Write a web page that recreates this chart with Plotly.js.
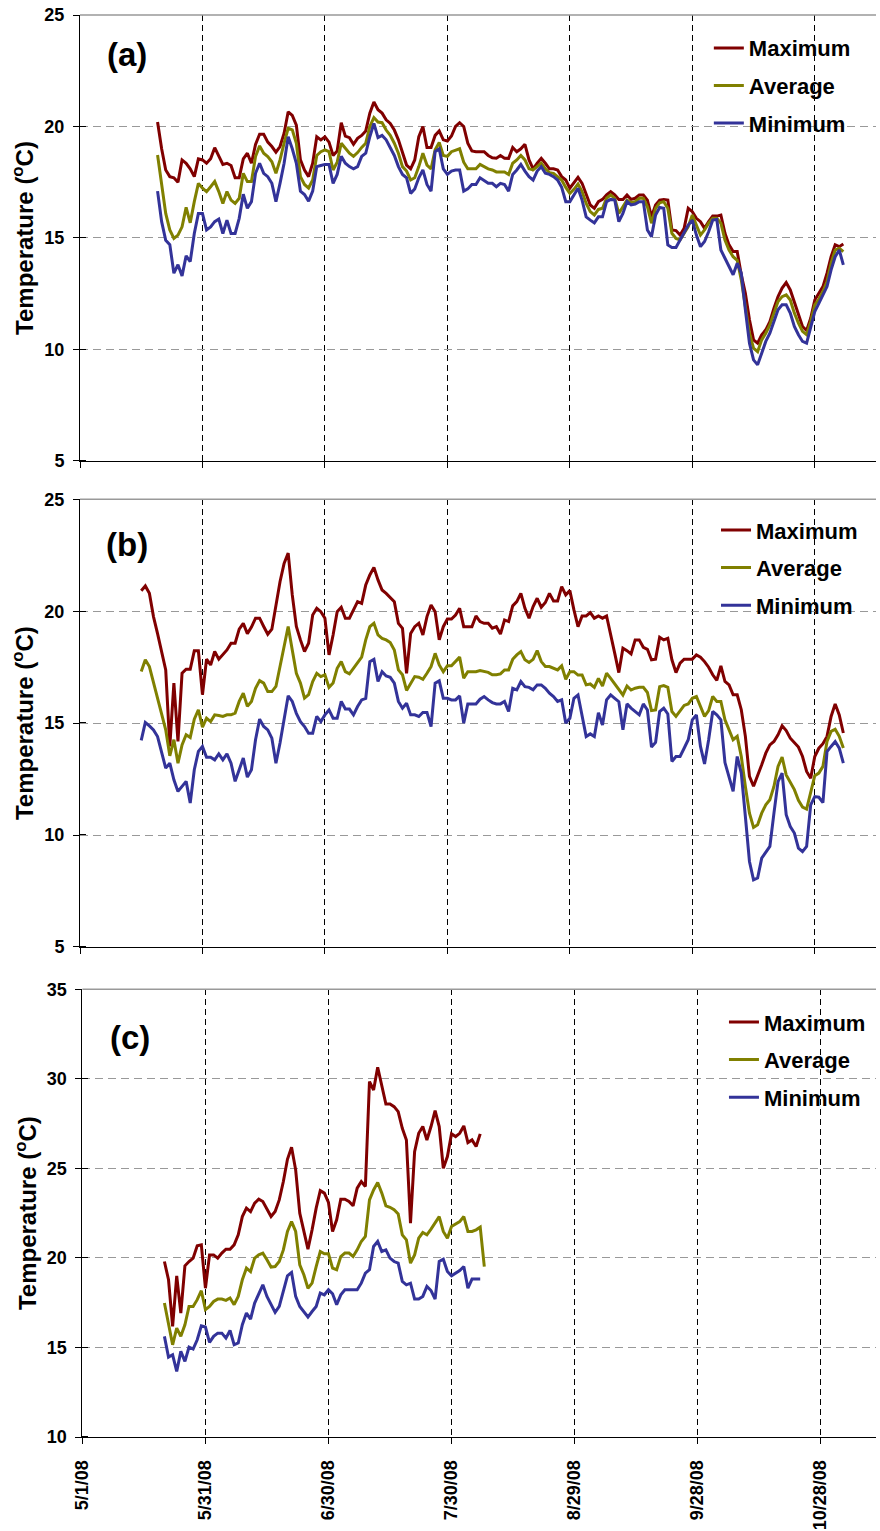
<!DOCTYPE html>
<html><head><meta charset="utf-8">
<script src="https://cdn.plot.ly/plotly-3.0.1.min.js"></script>
<style>html,body{margin:0;padding:0;background:#fff}</style>
</head><body><div id="chart" style="width:880px;height:1531px"></div>
<script>
const seriesNames = ['Maximum', 'Average', 'Minimum'];
const seriesColors = ['#800000', '#808000', '#333399'];
const panelLabels = ['(a)', '(b)', '(c)'];
const yTitle = 'Temperature (<sup>o</sup>C)';

// Panel (a): daily values starting 5/20/08
const startA = '2008-05-20';
const aMax = [20.2,19.0,18.05,17.75,17.7,17.5,18.5,18.35,18.1,17.75,18.55,18.5,18.35,18.55,19.05,18.7,18.3,18.35,18.25,17.7,17.7,18.55,18.8,18.35,19.2,19.65,19.65,19.3,19.1,18.85,19.1,19.7,
20.66,20.5,20.06,18.5,18.05,17.75,18.35,19.54,19.4,19.54,19.3,18.7,18.9,20.17,19.57,19.5,19.2,19.47,19.6,19.8,20.6,21.1,20.75,20.6,20.3,20.14,19.84,19.4,18.8,18.27,18.1,18.5,19.54,20.0,19.06,19.06,19.6,19.8,19.4,19.35,19.57,20.0,20.17,20.0,19.25,18.9,18.87,18.87,18.87,18.7,18.6,18.58,18.7,18.58,18.57,19.06,18.87,19.0,19.2,18.5,18.1,18.35,18.57,18.35,18.1,18.1,18.05,
17.75,17.6,17.23,17.45,17.72,17.45,17.0,16.48,16.33,16.63,16.73,16.93,17.08,16.93,16.73,16.73,16.93,16.73,16.78,16.93,16.93,16.7,15.95,16.48,16.7,16.73,16.7,15.36,15.33,15.13,15.43,16.33,16.18,15.88,15.73,15.43,15.73,15.98,15.98,16.03,15.21,14.69,14.39,14.39,13.35,12.52,11.33,10.43,10.28,10.66,10.88,11.25,11.85,12.37,12.75,13.0,12.67,12.15,11.55,11.03,10.85,11.4,12.22,12.52,12.82,13.42,14.16,14.69,14.61,14.73];
const aAvg = [18.72,17.3,16.1,15.36,14.98,15.13,15.5,16.37,15.68,16.63,17.45,17.23,17.08,17.3,17.53,17.08,16.55,17.08,16.7,16.55,16.78,17.9,17.53,17.53,18.65,19.13,18.8,18.65,18.42,17.9,18.5,19.25,
19.92,19.85,19.25,17.75,17.4,17.24,17.6,18.7,18.87,18.95,18.87,18.05,18.4,19.25,19.0,18.8,18.66,18.83,19.06,19.25,20.0,20.4,20.2,20.17,19.84,19.6,19.25,18.8,18.2,18.0,17.6,17.7,18.2,18.8,18.27,18.1,18.95,19.28,18.7,18.66,18.87,18.95,19.0,18.4,18.1,18.1,18.1,18.3,18.2,18.1,18.05,17.96,17.96,17.96,17.85,18.35,18.5,18.7,18.5,18.1,18.05,18.2,18.35,18.1,17.93,17.9,17.75,
17.6,17.27,17.0,17.18,17.42,17.08,16.55,16.18,16.03,16.28,16.33,16.78,16.93,16.78,16.1,16.4,16.7,16.58,16.63,16.78,16.78,16.4,15.66,16.33,16.58,16.63,16.33,15.21,14.98,14.91,15.21,15.51,16.03,15.58,15.13,15.36,15.66,15.88,15.88,15.66,14.91,14.46,14.16,14.0,13.12,11.92,10.73,10.06,9.9,10.43,10.73,11.1,11.63,12.15,12.37,12.45,12.22,11.63,11.18,10.81,10.66,11.25,12.0,12.25,12.6,13.05,13.87,14.46,14.54,14.39];
const aMin = [17.1,15.73,14.9,14.7,13.42,13.8,13.3,14.2,13.94,15.2,16.1,16.1,15.36,15.5,15.73,15.85,15.2,15.8,15.2,15.2,15.88,16.96,16.33,16.63,17.9,18.35,17.9,17.75,17.45,16.63,17.45,18.35,
19.54,19.0,18.35,17.1,16.95,16.65,17.1,18.2,18.25,18.3,18.3,17.45,17.85,18.66,18.35,18.2,18.1,18.2,18.66,18.8,19.54,20.14,19.5,19.6,19.4,19.06,18.7,18.2,17.85,17.7,17.0,17.2,17.7,18.05,17.4,17.1,18.87,19.0,18.1,17.85,18.0,18.05,18.05,17.1,17.2,17.4,17.4,17.7,17.57,17.45,17.45,17.3,17.45,17.4,17.1,17.85,18.05,18.3,18.0,17.75,17.6,18.0,18.2,17.9,17.85,17.75,17.6,
17.27,16.63,16.63,16.93,17.23,16.7,15.95,15.8,15.68,15.95,15.95,16.63,16.73,16.7,15.73,16.1,16.63,16.48,16.52,16.63,16.63,15.36,15.06,16.03,16.37,16.33,14.69,14.57,14.57,14.91,15.28,15.58,15.8,15.13,14.61,14.84,15.28,15.8,15.83,14.46,14.09,13.72,13.35,13.87,13.42,11.78,10.28,9.53,9.31,9.83,10.36,10.73,11.25,11.78,12.0,12.0,11.63,11.03,10.66,10.36,10.28,11.03,11.7,12.07,12.45,12.82,13.57,14.16,14.46,13.79];

// Panel (b): daily values starting 5/16/08
const startB = '2008-05-16';
const bMax = [20.92,21.13,20.8,19.76,19.0,18.12,17.38,13.96,16.79,14.18,17.23,17.41,17.41,18.23,18.23,16.27,17.86,17.6,18.2,17.86,18.05,18.27,18.57,18.57,19.2,19.46,19.0,19.29,19.69,19.69,19.32,18.97,19.2,20.36,21.32,22.14,22.6,
20.73,19.32,18.72,18.2,18.57,19.83,20.13,19.98,19.69,18.05,18.94,19.98,20.18,19.69,19.69,20.03,20.43,20.35,21.17,21.62,21.96,21.4,20.95,20.8,20.62,20.43,19.46,19.24,17.23,19.01,19.31,19.46,18.94,19.76,20.28,19.98,18.72,19.31,19.65,19.65,19.83,20.13,19.31,19.31,19.31,19.79,19.54,19.46,19.46,19.24,19.31,18.98,19.61,19.54,20.24,20.43,20.8,20.13,19.69,20.21,20.58,20.18,20.39,20.8,20.46,20.46,
21.1,20.73,20.92,20.06,19.31,19.79,19.79,19.94,19.69,19.79,19.69,19.79,18.87,18.12,17.26,18.35,18.24,18.09,18.72,18.72,18.39,18.3,17.83,17.86,18.84,18.72,18.79,17.83,17.26,17.68,17.86,17.86,17.86,18.05,17.95,17.75,17.5,17.16,16.91,17.56,16.86,16.71,16.27,16.27,15.6,14.41,12.62,12.18,12.62,13.14,13.66,14.03,14.18,14.48,14.88,14.67,14.33,14.14,13.93,13.51,12.84,12.54,13.51,13.88,14.08,14.41,15.3,15.86,15.37,14.56];
const bAvg = [17.31,17.83,17.53,16.79,16.19,15.37,14.7,13.54,14.26,13.21,14.03,14.48,14.36,15.18,15.6,14.82,15.22,15.07,15.37,15.34,15.3,15.37,15.37,15.45,15.97,16.34,15.75,15.97,16.56,16.9,16.79,16.41,16.41,16.64,17.53,18.42,19.32,
18.27,17.23,16.79,16.12,16.27,16.86,17.23,17.08,17.16,16.6,16.79,17.45,17.75,17.3,17.2,17.45,17.75,17.95,18.72,19.31,19.46,18.94,18.79,18.72,18.6,18.27,17.38,17.16,16.46,16.79,17.08,17.05,16.96,17.23,17.53,18.12,17.6,17.3,17.56,17.56,17.75,17.95,17.01,17.3,17.3,17.3,17.35,17.3,17.27,17.16,17.16,17.2,17.38,17.38,17.85,18.05,18.2,17.83,17.71,17.85,18.24,17.75,17.53,17.53,17.45,17.38,
17.56,16.96,17.3,17.3,17.15,17.15,16.71,16.75,16.6,17.0,16.66,17.23,17.0,16.75,16.48,16.26,16.66,16.48,16.56,16.6,16.6,16.37,15.56,15.59,16.63,16.68,16.6,15.52,15.3,15.52,15.79,15.86,16.11,16.19,15.74,15.3,15.56,16.19,15.97,15.97,15.15,14.73,14.26,14.41,13.51,12.17,10.98,10.34,10.46,10.98,11.35,11.58,12.17,13.07,13.48,12.69,12.35,12.03,11.55,11.25,11.16,11.95,12.65,12.77,13.07,14.18,14.63,14.73,14.41,13.89];
const bMin = [14.23,15.03,14.88,14.7,14.4,13.66,12.99,13.21,12.47,11.95,12.17,12.4,11.43,12.92,13.74,13.96,13.48,13.48,13.36,13.63,13.36,13.63,13.21,12.4,12.92,13.44,12.59,12.92,14.26,15.18,14.85,14.7,14.33,13.21,14.11,15.15,16.22,
15.97,15.44,15.07,14.85,14.55,14.55,15.3,15.07,15.37,15.59,15.22,15.22,15.97,15.63,15.63,15.37,15.74,16.04,16.11,17.75,17.85,16.86,17.3,17.11,17.05,16.79,15.97,15.67,15.89,15.37,15.37,15.3,15.48,15.48,14.85,16.79,16.89,16.11,16.11,16.04,16.04,16.22,15.0,15.86,15.86,15.86,16.07,16.19,16.04,15.92,15.86,15.86,15.97,15.52,16.56,16.49,16.86,16.63,16.6,16.49,16.71,16.71,16.56,16.34,16.19,15.97,
16.04,15.0,15.22,16.11,16.26,15.3,14.4,14.52,14.4,15.47,14.92,16.04,16.26,16.11,15.96,14.7,15.86,15.67,15.52,15.37,15.86,15.59,13.93,14.14,15.52,15.67,15.41,13.29,13.51,13.51,13.88,14.26,15.15,15.37,13.96,13.18,14.26,15.52,15.37,15.15,13.24,12.54,11.95,13.51,12.77,10.83,8.82,8.0,8.08,8.97,9.26,9.49,10.98,12.39,12.77,10.91,10.38,10.09,9.42,9.26,9.49,11.35,11.72,11.69,11.45,13.73,13.96,14.18,13.88,13.21];

// Panel (c): daily values starting 5/21/08
const startC = '2008-05-21';
const cMax = [19.8,18.78,16.18,19.0,16.92,19.56,19.8,19.99,20.68,20.73,18.31,20.17,20.17,19.99,20.27,20.49,20.49,20.73,21.29,22.31,22.78,22.59,23.06,23.28,23.15,22.72,22.31,22.59,23.24,24.27,25.51,26.18,
24.92,22.5,21.57,20.49,21.57,22.78,23.76,23.62,23.1,21.48,22.13,23.28,23.28,23.15,22.91,23.9,24.27,23.99,29.85,29.38,30.65,29.66,28.6,28.6,28.45,28.17,27.24,26.59,21.94,25.94,26.96,27.34,26.59,27.34,28.23,27.34,25.01,25.66,26.93,26.78,26.96,27.37,26.44,26.59,26.22,26.93];
const cAvg = [17.48,16.27,15.15,16.08,15.62,16.27,17.29,17.29,17.67,18.17,17.11,17.29,17.57,17.7,17.7,17.63,17.76,17.39,17.85,18.78,19.43,19.24,19.99,20.17,20.27,19.9,19.49,19.52,19.8,20.45,21.48,22.03,
21.48,19.62,19.06,18.31,18.59,19.52,20.36,20.23,20.23,19.43,19.34,20.08,20.27,20.27,20.08,20.45,20.92,21.2,23.24,23.8,24.21,23.62,22.91,22.83,22.69,22.46,21.29,21.01,19.71,20.17,21.1,21.42,21.29,21.61,21.98,22.31,21.48,21.1,21.76,21.9,22.03,22.31,21.48,21.48,21.57,21.72,19.52];
const cMin = [15.62,14.46,14.59,13.66,14.78,14.22,15.02,14.91,15.43,16.21,16.14,15.28,15.62,15.8,15.8,15.52,15.95,15.15,15.25,16.27,16.92,16.58,17.48,18.04,18.5,17.85,17.39,16.96,17.29,18.22,19.0,19.19,
17.85,17.29,17.01,16.7,17.01,17.29,18.04,17.94,18.22,18.0,17.39,17.94,18.22,18.22,18.22,18.22,18.59,19.15,19.34,20.64,20.92,20.36,20.45,19.99,19.8,19.71,18.69,18.5,18.59,17.7,17.7,17.85,18.41,18.18,17.7,19.8,19.93,19.24,19.0,19.15,19.3,19.52,18.31,18.82,18.82,18.82];

const FONT = 'Liberation Sans, Arial, Helvetica, sans-serif';

function dailyDates(start, n) {
  const t0 = Date.parse(start + 'T00:00:00Z');
  const out = [];
  for (let i = 0; i < n; i++) out.push(new Date(t0 + i * 86400000).toISOString().slice(0, 10));
  return out;
}

const panels = [
  {start: startA, series: [aMax, aAvg, aMin], xa: 'x', ya: 'y', lg: 'legend'},
  {start: startB, series: [bMax, bAvg, bMin], xa: 'x2', ya: 'y2', lg: 'legend2'},
  {start: startC, series: [cMax, cAvg, cMin], xa: 'x3', ya: 'y3', lg: 'legend3'}
];

const traces = [];
panels.forEach((p, pi) => {
  p.series.forEach((vals, si) => {
    traces.push({
      type: 'scatter', mode: 'lines',
      x: dailyDates(p.start, vals.length), y: vals,
      name: seriesNames[si], xaxis: p.xa, yaxis: p.ya, legend: p.lg,
      legendgroup: 'p' + pi + 's' + si,
      line: {color: seriesColors[si], width: 3}
    });
  });
});

const DAY = 86400000;
function xAxis(domain, anchor, rangeEnd, labels) {
  return {
    type: 'date', domain: domain, anchor: anchor, range: ['2008-05-01', rangeEnd],
    tickmode: 'linear', tick0: '2008-05-01', dtick: 30 * DAY, tickformat: '%-m/%-d/%y',
    showticklabels: labels, tickangle: -90, ticklabelstandoff: 9,
    tickfont: {family: FONT, size: 18, color: '#000', weight: 'bold'},
    ticks: 'outside', ticklen: 6, tickcolor: '#000', tickwidth: 1,
    showline: true, linecolor: '#000', linewidth: 1,
    showgrid: true, gridcolor: '#000', gridwidth: 1, griddash: '6px,4px',
    zeroline: false, fixedrange: true
  };
}
function yAxis(domain, anchor, range) {
  return {
    domain: domain, anchor: anchor, range: range, tickmode: 'linear', tick0: 0, dtick: 5,
    ticks: 'outside', ticklen: 6, tickcolor: '#000', tickwidth: 1, ticklabelstandoff: 5,
    minor: {tick0: 0.01, dtick: 5, ticks: 'inside', ticklen: 6, tickcolor: '#000', tickwidth: 1, showgrid: false},
    tickfont: {family: FONT, size: 18, color: '#000', weight: 'bold'},
    showline: true, linecolor: '#000', linewidth: 1,
    showgrid: true, gridcolor: '#999999', gridwidth: 1, griddash: '8px,5px',
    zeroline: false, fixedrange: true,
    title: {text: yTitle, standoff: 3, font: {family: FONT, size: 24, color: '#000', weight: 'bold'}}
  };
}
function legendAt(x, y) {
  return {x: x, y: y, xanchor: 'left', yanchor: 'top', bgcolor: 'rgba(0,0,0,0)', borderwidth: 0,
    traceorder: 'grouped', tracegroupgap: 6,
    font: {family: FONT, size: 22, color: '#000', weight: 'bold'}};
}
function mask(x0, x1, y0, y1) {
  return {type: 'rect', xref: 'paper', yref: 'paper', x0: x0, x1: x1, y0: y0, y1: y1,
    fillcolor: '#ffffff', line: {width: 0}, layer: 'between'};
}
function topLine(xref, yref) {
  return {type: 'line', xref: xref + ' domain', yref: yref + ' domain', x0: 0, x1: 1, y0: 1, y1: 1,
    line: {color: '#999999', width: 1.5}, layer: 'above'};
}
function panelLabel(text, x, y) {
  return {text: text, xref: 'paper', yref: 'paper', x: x, y: y, xanchor: 'center', yanchor: 'middle',
    showarrow: false, font: {family: FONT, size: 33, color: '#000', weight: 'bold'}};
}

const layout = {
  width: 880, height: 1531,
  margin: {l: 80, r: 4, t: 15, b: 94},
  paper_bgcolor: '#fff', plot_bgcolor: '#fff',
  showlegend: true,
  xaxis: xAxis([0, 1], 'y', '2008-11-12', false),
  xaxis2: xAxis([0, 1], 'y2', '2008-11-12', false),
  xaxis3: xAxis([0.003, 1], 'y3', '2008-11-10 12:00', true),
  yaxis: yAxis([0.6864, 1], 'x', [5, 25]),
  yaxis2: yAxis([0.3446, 0.6594], 'x2', [5, 25]),
  yaxis3: yAxis([0, 0.3148], 'x3', [10, 35]),
  legend: legendAt(0.790, 0.9915),
  legend2: legendAt(0.799, 0.6525),
  legend3: legendAt(0.809, 0.3065),
  shapes: [
    mask(0.6193, 0.9849, 0.9100, 1.0),
    mask(0.6219, 0.9774, 0.5710, 0.6594),
    mask(0.628, 0.986, 0.2264, 0.3148),
    topLine('x', 'y'), topLine('x2', 'y2'), topLine('x3', 'y3')
  ],
  annotations: [
    panelLabel(panelLabels[0], 0.059, 0.9719),
    panelLabel(panelLabels[1], 0.059, 0.6273),
    panelLabel(panelLabels[2], 0.063, 0.2806)
  ]
};

Plotly.newPlot('chart', traces, layout, {staticPlot: true, displayModeBar: false});
</script>
</body></html>
